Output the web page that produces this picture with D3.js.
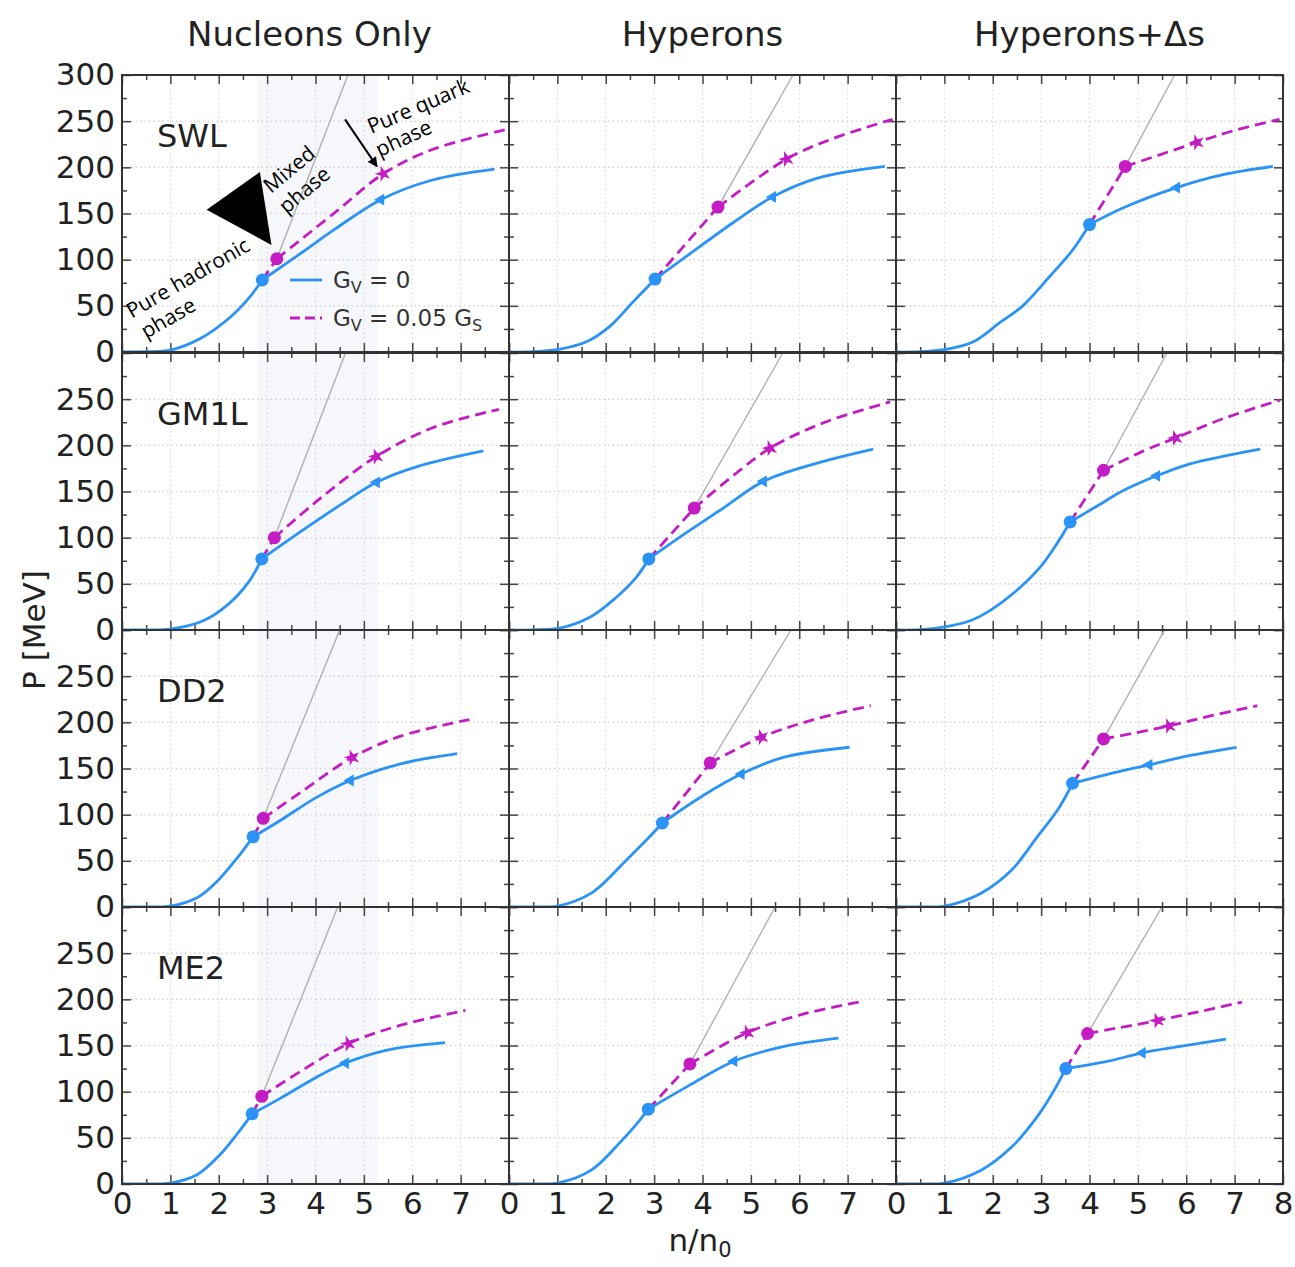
<!DOCTYPE html>
<html>
<head>
<meta charset="utf-8">
<script src="https://cdn.jsdelivr.net/npm/d3@7"></script>
<style>
  body { margin: 0; background: #fff; }
</style>
</head>
<body>
<script>
// column / row headings and tick labels
const colTitles = ["Nucleons Only", "Hyperons", "Hyperons+Δs"];
const rowLabels = ["SWL", "GM1L", "DD2", "ME2"];
const xTicks = [0, 1, 2, 3, 4, 5, 6, 7, 8];
const yTicks = [0, 50, 100, 150, 200, 250, 300];

// G_V = 0 curves, one per panel, row by row (SWL, GM1L, DD2, ME2) x (Nucleons, Hyperons, Hyperons+Δs)
const gv0Curves = [
  [[0,0],[0.5,0.3],[1,2],[1.6,14],[2.2,36],[2.6,57],[2.9,78],[3.7,107],[4.4,133],[5.35,165],[6.4,186],[7.7,198]],
  [[0,0],[0.5,0.3],[1.05,3],[1.6,11],[2.09,28],[2.56,54],[3.02,79],[3.68,104],[4.63,140],[5.45,168],[6.36,188],[7.77,201]],
  [[0,0],[0.5,0.3],[1.05,3],[1.6,11],[2.15,32],[2.62,50],[3.18,82],[3.66,111],[4.0,138],[4.69,156],[5.8,178],[6.76,192],[7.79,201]],
  [[0,0],[0.5,0.2],[1,1],[1.68,10],[2.2,28],[2.63,53],[2.89,77],[3.79,110],[4.53,136],[5.26,160],[6.1,177],[7.47,194]],
  [[0,0],[0.5,0.2],[1.05,2],[1.68,14],[2.21,35],[2.63,57],[2.89,77],[3.6,103],[4.4,131],[5.26,161],[6.32,180],[7.53,196]],
  [[0,0],[0.5,0.3],[0.98,3],[1.53,10],[1.94,21],[2.5,43],[2.98,68],[3.32,93],[3.6,117],[4.15,134],[4.7,151],[5.39,167],[6.08,180],[7.53,196]],
  [[0,0],[0.5,0.2],[1,1],[1.55,10],[1.97,28],[2.38,53],[2.71,76],[3.28,94],[4.03,119],[4.72,137],[5.76,155],[6.93,166]],
  [[0,0],[0.5,0.2],[1,1],[1.7,15],[2.43,51],[2.85,73],[3.17,91],[3.99,120],[4.8,144],[5.67,162],[7.04,173]],
  [[0,0],[0.5,0.2],[1,1],[1.76,15],[2.39,40],[2.92,76],[3.34,105],[3.65,134],[4.39,144],[5.23,154],[6.06,164],[7.04,173]],
  [[0,0],[0.5,0.2],[1,1],[1.55,10],[2.03,32],[2.45,59],[2.69,76],[3.28,93],[4.03,116],[4.62,131],[5.48,145],[6.68,153]],
  [[0,0],[0.5,0.2],[1,1],[1.7,15],[2.33,47],[2.7,69],[2.88,81],[3.7,106],[4.65,133],[5.69,149],[6.81,158]],
  [[0,0],[0.5,0.2],[1,1],[1.76,15],[2.39,40],[2.92,73],[3.23,98],[3.51,125],[4.39,133],[5.09,142],[5.87,149],[6.82,157]]
];

// G_V = 0.05 G_S curves (start at the G_V = 0 onset of the mixed phase)
const gv05Curves = [
  [[2.9,78],[3.2,101],[4.4,151],[5.4,193],[6.4,219],[7.95,241]],
  [[3.02,79],[4.32,157],[5.74,209],[6.69,231],[7.93,252]],
  [[4.0,138],[4.74,201],[6.22,227],[7.0,240],[7.93,252]],
  [[2.89,77],[3.15,100],[4.11,143],[5.26,188],[6.42,219],[7.79,239]],
  [[2.89,77],[3.83,132],[4.63,167],[5.4,197],[6.53,225],[7.88,247]],
  [[3.6,117],[4.29,173],[5.12,194],[5.78,208],[6.77,229],[7.94,249]],
  [[2.71,76],[2.92,96],[3.69,124],[4.76,162],[5.76,185],[7.18,203]],
  [[3.17,91],[4.16,156],[5.22,184],[6.3,203],[7.48,218]],
  [[3.65,134],[4.29,182],[5.64,196],[6.5,207],[7.47,218]],
  [[2.69,76],[2.89,95],[3.69,122],[4.68,152],[5.76,172],[7.1,188]],
  [[2.88,81],[3.74,130],[4.93,164],[6.08,184],[7.23,197]],
  [[3.51,125],[3.96,163],[5.4,177],[6.3,187],[7.15,197]]
];

// onset of the mixed phase (circles) and of the pure quark phase (small markers)
const gv0Mixed  = [[2.9,78],[3.02,79],[4.0,138],[2.89,77],[2.89,77],[3.6,117],[2.71,76],[3.17,91],[3.65,134],[2.69,76],[2.88,81],[3.51,125]];
const gv0Quark  = [[5.35,165],[5.45,168],[5.8,178],[5.26,160],[5.26,161],[5.39,167],[4.72,137],[4.8,144],[5.23,154],[4.62,131],[4.65,133],[5.09,142]];
const gv05Mixed = [[3.2,101],[4.32,157],[4.74,201],[3.15,100],[3.83,132],[4.29,173],[2.92,96],[4.16,156],[4.29,182],[2.89,95],[3.74,130],[3.96,163]];
const gv05Quark = [[5.4,193],[5.74,209],[6.22,227],[5.26,188],[5.4,197],[5.78,208],[4.76,162],[5.22,184],[5.64,196],[4.68,152],[4.93,164],[5.4,177]];
// purely hadronic continuation (grey), from the G_V = 0.05 G_S onset up to the top edge
const hadronTop = [[4.67,300],[5.87,300],[5.76,300],[4.62,300],[5.66,300],[5.6,300],[4.5,300],[5.83,300],[5.55,300],[4.46,300],[5.5,300],[5.5,300]];
// mixed phase band of the nucleons-only column
const mixedBand = [2.8, 5.3];

const W = 1295, H = 1267;
const colX = [122, 509, 896], pw = 387;
const rowY = [75, 353, 630, 907], ph = 277;
const blue = "#2a93f5", mag = "#c21cc2";

const svg = d3.select("body").append("svg")
  .attr("width", W).attr("height", H)
  .style("font-family", "'DejaVu Sans', sans-serif");

const line = d3.line().x(d => d[0]).y(d => d[1]).curve(d3.curveCatmullRom.alpha(0.5));

let x0, y0; // scales of the first panel, for the annotations

rowLabels.forEach((rl, r) => {
  colTitles.forEach((ct, c) => {
    const i = r * 3 + c;
    const x = d3.scaleLinear().domain([0, 8]).range([colX[c], colX[c] + pw]);
    const y = d3.scaleLinear().domain([0, 300]).range([rowY[r] + ph, rowY[r]]);
    if (i === 0) { x0 = x; y0 = y; }
    const g = svg.append("g");

    g.append("clipPath").attr("id", "clip" + i)
      .append("rect").attr("x", x(0)).attr("y", y(300)).attr("width", pw).attr("height", ph);

    if (c === 0) {
      g.append("rect")
        .attr("x", x(mixedBand[0])).attr("y", y(300))
        .attr("width", x(mixedBand[1]) - x(mixedBand[0])).attr("height", ph)
        .attr("fill", "#f6f7fa");
    }

    // dotted grid
    g.selectAll(".gx").data(xTicks.slice(1, 8)).join("line")
      .attr("x1", d => x(d)).attr("x2", d => x(d)).attr("y1", y(0)).attr("y2", y(300))
      .attr("stroke", "#d4d4d4").attr("stroke-width", 1).attr("stroke-dasharray", "1.5,3");
    g.selectAll(".gy").data(yTicks.slice(1, 6)).join("line")
      .attr("x1", x(0)).attr("x2", x(8)).attr("y1", d => y(d)).attr("y2", d => y(d))
      .attr("stroke", "#d4d4d4").attr("stroke-width", 1.5).attr("stroke-dasharray", "1.5,3");

    // inward ticks on all four sides
    const minorX = d3.range(0.5, 8, 1), minorY = d3.range(25, 300, 50);
    const bottom = g.append("g").attr("transform", `translate(0,${y(0)})`)
      .call(d3.axisBottom(x).tickValues(xTicks).tickSize(-9).tickPadding(6)
        .tickFormat(d => (r === 3 && (d < 8 || c === 2)) ? d : ""));
    const bottomMinor = g.append("g").attr("transform", `translate(0,${y(0)})`)
      .call(d3.axisBottom(x).tickValues(minorX).tickSize(-5).tickFormat(""));
    const top = g.append("g").attr("transform", `translate(0,${y(300)})`)
      .call(d3.axisTop(x).tickValues(xTicks).tickSize(-9).tickFormat(""));
    const topMinor = g.append("g").attr("transform", `translate(0,${y(300)})`)
      .call(d3.axisTop(x).tickValues(minorX).tickSize(-5).tickFormat(""));
    const left = g.append("g").attr("transform", `translate(${x(0)},0)`)
      .call(d3.axisLeft(y).tickValues(yTicks).tickSize(-9).tickPadding(7)
        .tickFormat(d => (c === 0 && (d < 300 || r === 0)) ? d : ""));
    const leftMinor = g.append("g").attr("transform", `translate(${x(0)},0)`)
      .call(d3.axisLeft(y).tickValues(minorY).tickSize(-5).tickFormat(""));
    const right = g.append("g").attr("transform", `translate(${x(8)},0)`)
      .call(d3.axisRight(y).tickValues(yTicks).tickSize(-9).tickFormat(""));
    const rightMinor = g.append("g").attr("transform", `translate(${x(8)},0)`)
      .call(d3.axisRight(y).tickValues(minorY).tickSize(-5).tickFormat(""));
    [bottom, bottomMinor, top, topMinor, left, leftMinor, right, rightMinor].forEach(a => {
      a.select(".domain").remove();
      a.selectAll("line").attr("stroke", "#444").attr("stroke-width", 1.5);
      a.selectAll("text").attr("font-size", 31).attr("fill", "#222")
        .attr("font-family", "'DejaVu Sans', sans-serif");
    });
    bottom.selectAll("text").attr("dy", "0.78em");

    const plot = g.append("g").attr("clip-path", `url(#clip${i})`);

    // grey hadronic continuation
    plot.append("path")
      .attr("d", d3.line()([[x(gv05Mixed[i][0]), y(gv05Mixed[i][1])], [x(hadronTop[i][0]), y(hadronTop[i][1])]]))
      .attr("fill", "none").attr("stroke", "#b0b0b0").attr("stroke-width", 1.4);

    // G_V = 0.05 G_S: straight to its own mixed-phase onset, then smooth
    const mOn = gv05Mixed[i][0];
    const mA = gv05Curves[i].filter(d => d[0] <= mOn).map(d => [x(d[0]), y(d[1])]);
    const mB = gv05Curves[i].filter(d => d[0] >= mOn).map(d => [x(d[0]), y(d[1])]);
    plot.append("path").attr("d", d3.line()(mA) + line(mB))
      .attr("fill", "none").attr("stroke", mag).attr("stroke-width", 2.8)
      .attr("stroke-dasharray", "11,6");

    // G_V = 0: hadronic part and quark part, kink at the onset
    const bOn = gv0Mixed[i][0];
    const bA = gv0Curves[i].filter(d => d[0] <= bOn).map(d => [x(d[0]), y(d[1])]);
    const bB = gv0Curves[i].filter(d => d[0] >= bOn).map(d => [x(d[0]), y(d[1])]);
    plot.append("path").attr("d", line(bA) + line(bB))
      .attr("fill", "none").attr("stroke", blue).attr("stroke-width", 2.8);

    // markers
    plot.append("circle").attr("cx", x(gv0Mixed[i][0])).attr("cy", y(gv0Mixed[i][1]))
      .attr("r", 6.5).attr("fill", blue);
    plot.append("circle").attr("cx", x(gv05Mixed[i][0])).attr("cy", y(gv05Mixed[i][1]))
      .attr("r", 6.5).attr("fill", mag);
    plot.append("path").attr("d", d3.symbol(d3.symbolTriangle, 60)())
      .attr("transform", `translate(${x(gv0Quark[i][0])},${y(gv0Quark[i][1])}) rotate(-90)`)
      .attr("fill", blue);
    plot.append("path").attr("d", d3.symbol(d3.symbolStar, 80)())
      .attr("transform", `translate(${x(gv05Quark[i][0])},${y(gv05Quark[i][1])}) rotate(-90)`)
      .attr("fill", mag);

    // frame
    g.append("rect").attr("x", x(0)).attr("y", y(300)).attr("width", pw).attr("height", ph)
      .attr("fill", "none").attr("stroke", "#333").attr("stroke-width", 2);

    if (c === 0) {
      g.append("text").attr("x", x(0) + 35).attr("y", y(300) + 72)
        .attr("font-size", 32).attr("fill", "#222").text(rl);
    }
    if (r === 0) {
      svg.append("text").attr("x", x(4) - (c === 0 ? 6 : 0)).attr("y", 46)
        .attr("text-anchor", "middle").attr("font-size", 34).attr("fill", "#222").text(ct);
    }
  });
});

// axis labels
svg.append("text").attr("transform", "translate(45,630) rotate(-90)")
  .attr("text-anchor", "middle").attr("font-size", 31).attr("fill", "#222").text("P [MeV]");
const xl = svg.append("text").attr("x", 700).attr("y", 1251).attr("text-anchor", "middle")
  .attr("font-size", 31).attr("fill", "#222");
xl.append("tspan").text("n/n");
xl.append("tspan").text("0").attr("font-size", 21).attr("dy", 6);

// legend in the first panel
const legend = svg.append("g").attr("font-size", 23).attr("fill", "#333");
[["0", blue, null, 280], ["0.05", mag, "10,5", 318]].forEach(([v, col, dash, ly]) => {
  legend.append("line").attr("x1", 290).attr("x2", 322).attr("y1", ly).attr("y2", ly)
    .attr("stroke", col).attr("stroke-width", 2.8).attr("stroke-dasharray", dash);
  const t = legend.append("text").attr("x", 333).attr("y", ly + 8);
  t.append("tspan").text("G");
  t.append("tspan").text("V").attr("font-size", 16).attr("dy", 5);
  t.append("tspan").text(" = " + v).attr("dy", -5);
  if (v !== "0") {
    t.append("tspan").text(" G");
    t.append("tspan").text("S").attr("font-size", 16).attr("dy", 5);
  }
});

// annotations on the first panel
const ann = svg.append("g").attr("font-family", "'Open Sans', sans-serif").attr("font-size", 21).attr("fill", "#000");
const label = (txt, p, ang) => ann.append("text")
  .attr("transform", `translate(${x0(p[0])},${y0(p[1])}) rotate(${ang})`).text(txt);
label("Pure hadronic", [0.2, 36], -30);
label("phase", [0.5, 14], -30);
label("Mixed", [3.08, 171], -40);
label("phase", [3.4, 149], -40);
label("Pure quark", [5.15, 236], -23);
label("phase", [5.33, 211], -25);

const tri = [[1.75, 154], [2.85, 195], [3.09, 116]];
ann.append("path").attr("d", d3.line()(tri.map(d => [x0(d[0]), y0(d[1])])) + "Z").attr("fill", "#000");

const arrowStart = [4.61, 252], arrowEnd = [5.27, 201];
svg.append("defs").append("marker").attr("id", "head")
  .attr("viewBox", "0 0 10 10").attr("refX", 9).attr("refY", 5)
  .attr("markerWidth", 5).attr("markerHeight", 5).attr("orient", "auto")
  .append("path").attr("d", "M0,0L10,5L0,10Z").attr("fill", "#000");
ann.append("line")
  .attr("x1", x0(arrowStart[0])).attr("y1", y0(arrowStart[1]))
  .attr("x2", x0(arrowEnd[0])).attr("y2", y0(arrowEnd[1]))
  .attr("stroke", "#000").attr("stroke-width", 2).attr("marker-end", "url(#head)");
</script>
</body>
</html>
